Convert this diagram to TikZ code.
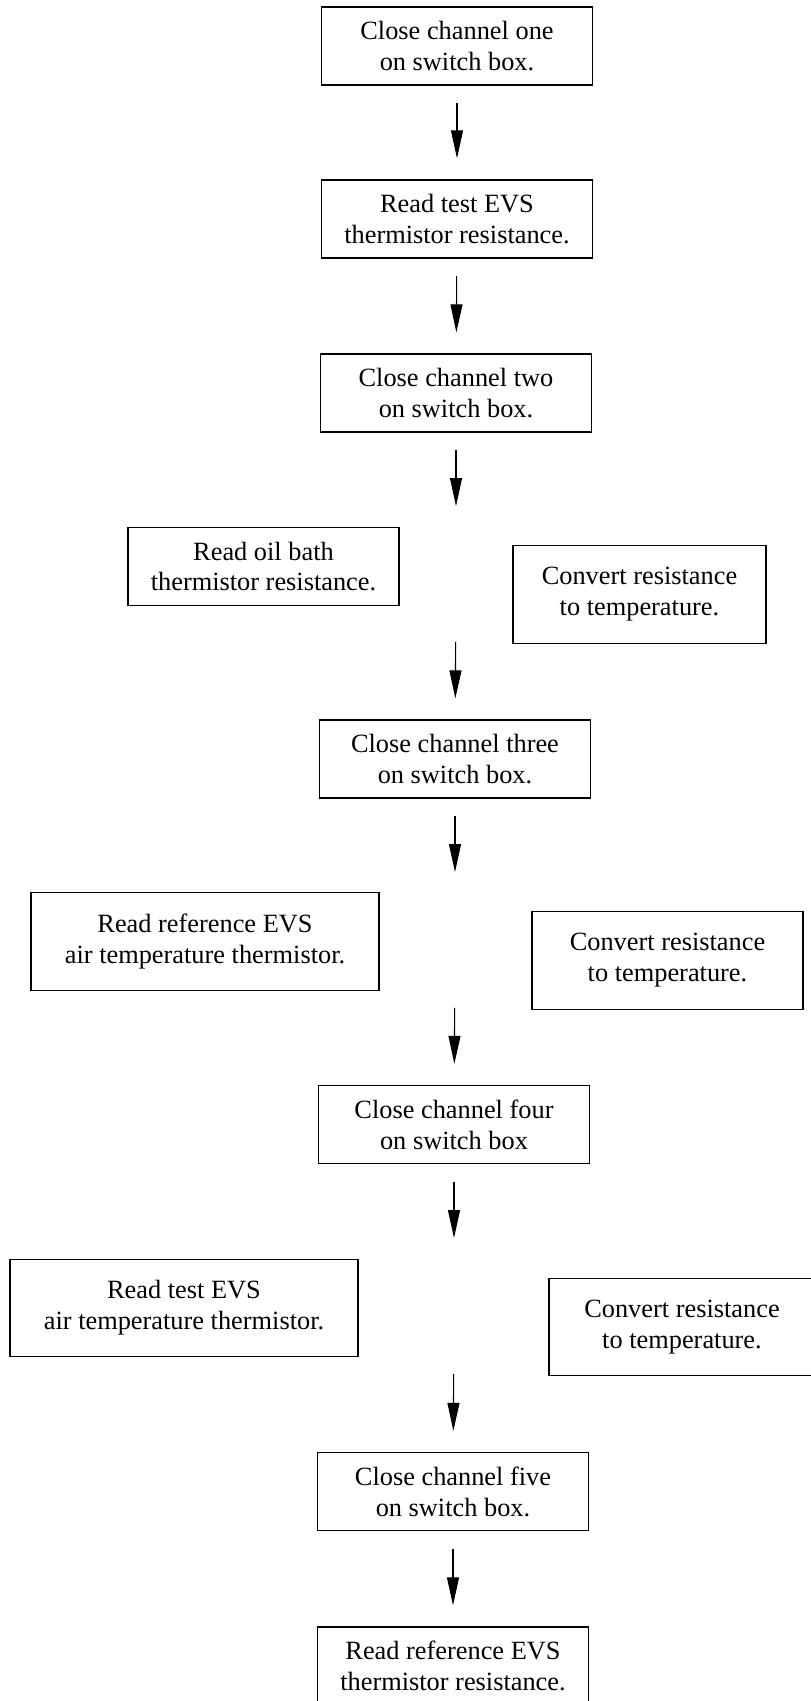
\documentclass[tikz,border=0pt]{standalone}
\usepackage{fontspec}
\setmainfont{Liberation Serif}
\usetikzlibrary{arrows.meta}

\begin{document}
\begin{tikzpicture}[
    x=0.02cm, y=-0.02cm,
    every node/.style={font=\fontsize{15}{17.6}\selectfont},
    etape/.style={draw, line width=0.8pt, align=center, inner sep=0pt, minimum width=5.42cm, minimum height=1.56cm},
    large/.style={etape, minimum height=1.95cm},
    fleche/.style={-{Triangle[length=0.56cm, width=0.24cm]}, line width=0.6pt, shorten <=0.35cm, shorten >=0.42cm},
    loin/.style={shorten <=1.36cm, shorten >=1.36cm}
]
\useasboundingbox (0,0) rectangle (811,1701);

% Colonne centrale
\node[etape] (c1) at (457,46) {Close channel one\\on switch box.};
\node[etape] (r1) at (457,219) {Read test EVS\\thermistor resistance.};
\node[etape] (c2) at (456,393) {Close channel two\\on switch box.};
\node[etape] (c3) at (455,759) {Close channel three\\on switch box.};
\node[etape] (c4) at (454,1124.5) {Close channel four\\on switch box};
\node[etape] (c5) at (453,1491.5) {Close channel five\\on switch box.};
\node[etape] (r5) at (453,1666) {Read reference EVS\\thermistor resistance.};

% Lignes avec lecture et conversion
\coordinate (m1) at (456,574);
\coordinate (m2) at (455,940);
\coordinate (m3) at (454,1306);

\node[etape] (lire1) at (263.5,566.5) {Read oil bath\\thermistor resistance.};
\node[large, minimum width=5.06cm] (conv1) at (639.5,594.5) {Convert resistance\\to temperature.};

\node[large, minimum width=6.96cm] (lire2) at (205,941.5) {Read reference EVS\\air temperature thermistor.};
\node[large] (conv2) at (667.5,960.5) {Convert resistance\\to temperature.};

\node[large, minimum width=6.96cm] (lire3) at (184,1308) {Read test EVS\\air temperature thermistor.};
\node[large, minimum width=5.32cm] (conv3) at (682,1327) {Convert resistance\\to temperature.};

% Fleches
\draw[fleche] (c1) -- (r1);
\draw[fleche] (r1) -- (c2);
\draw[fleche, shorten >=1.36cm] (c2) -- (m1);
\draw[fleche, shorten <=1.36cm] (m1) -- (c3);
\draw[fleche, shorten >=1.36cm] (c3) -- (m2);
\draw[fleche, shorten <=1.36cm] (m2) -- (c4);
\draw[fleche, shorten >=1.36cm] (c4) -- (m3);
\draw[fleche, shorten <=1.36cm] (m3) -- (c5);
\draw[fleche] (c5) -- (r5);

\end{tikzpicture}
\end{document}
